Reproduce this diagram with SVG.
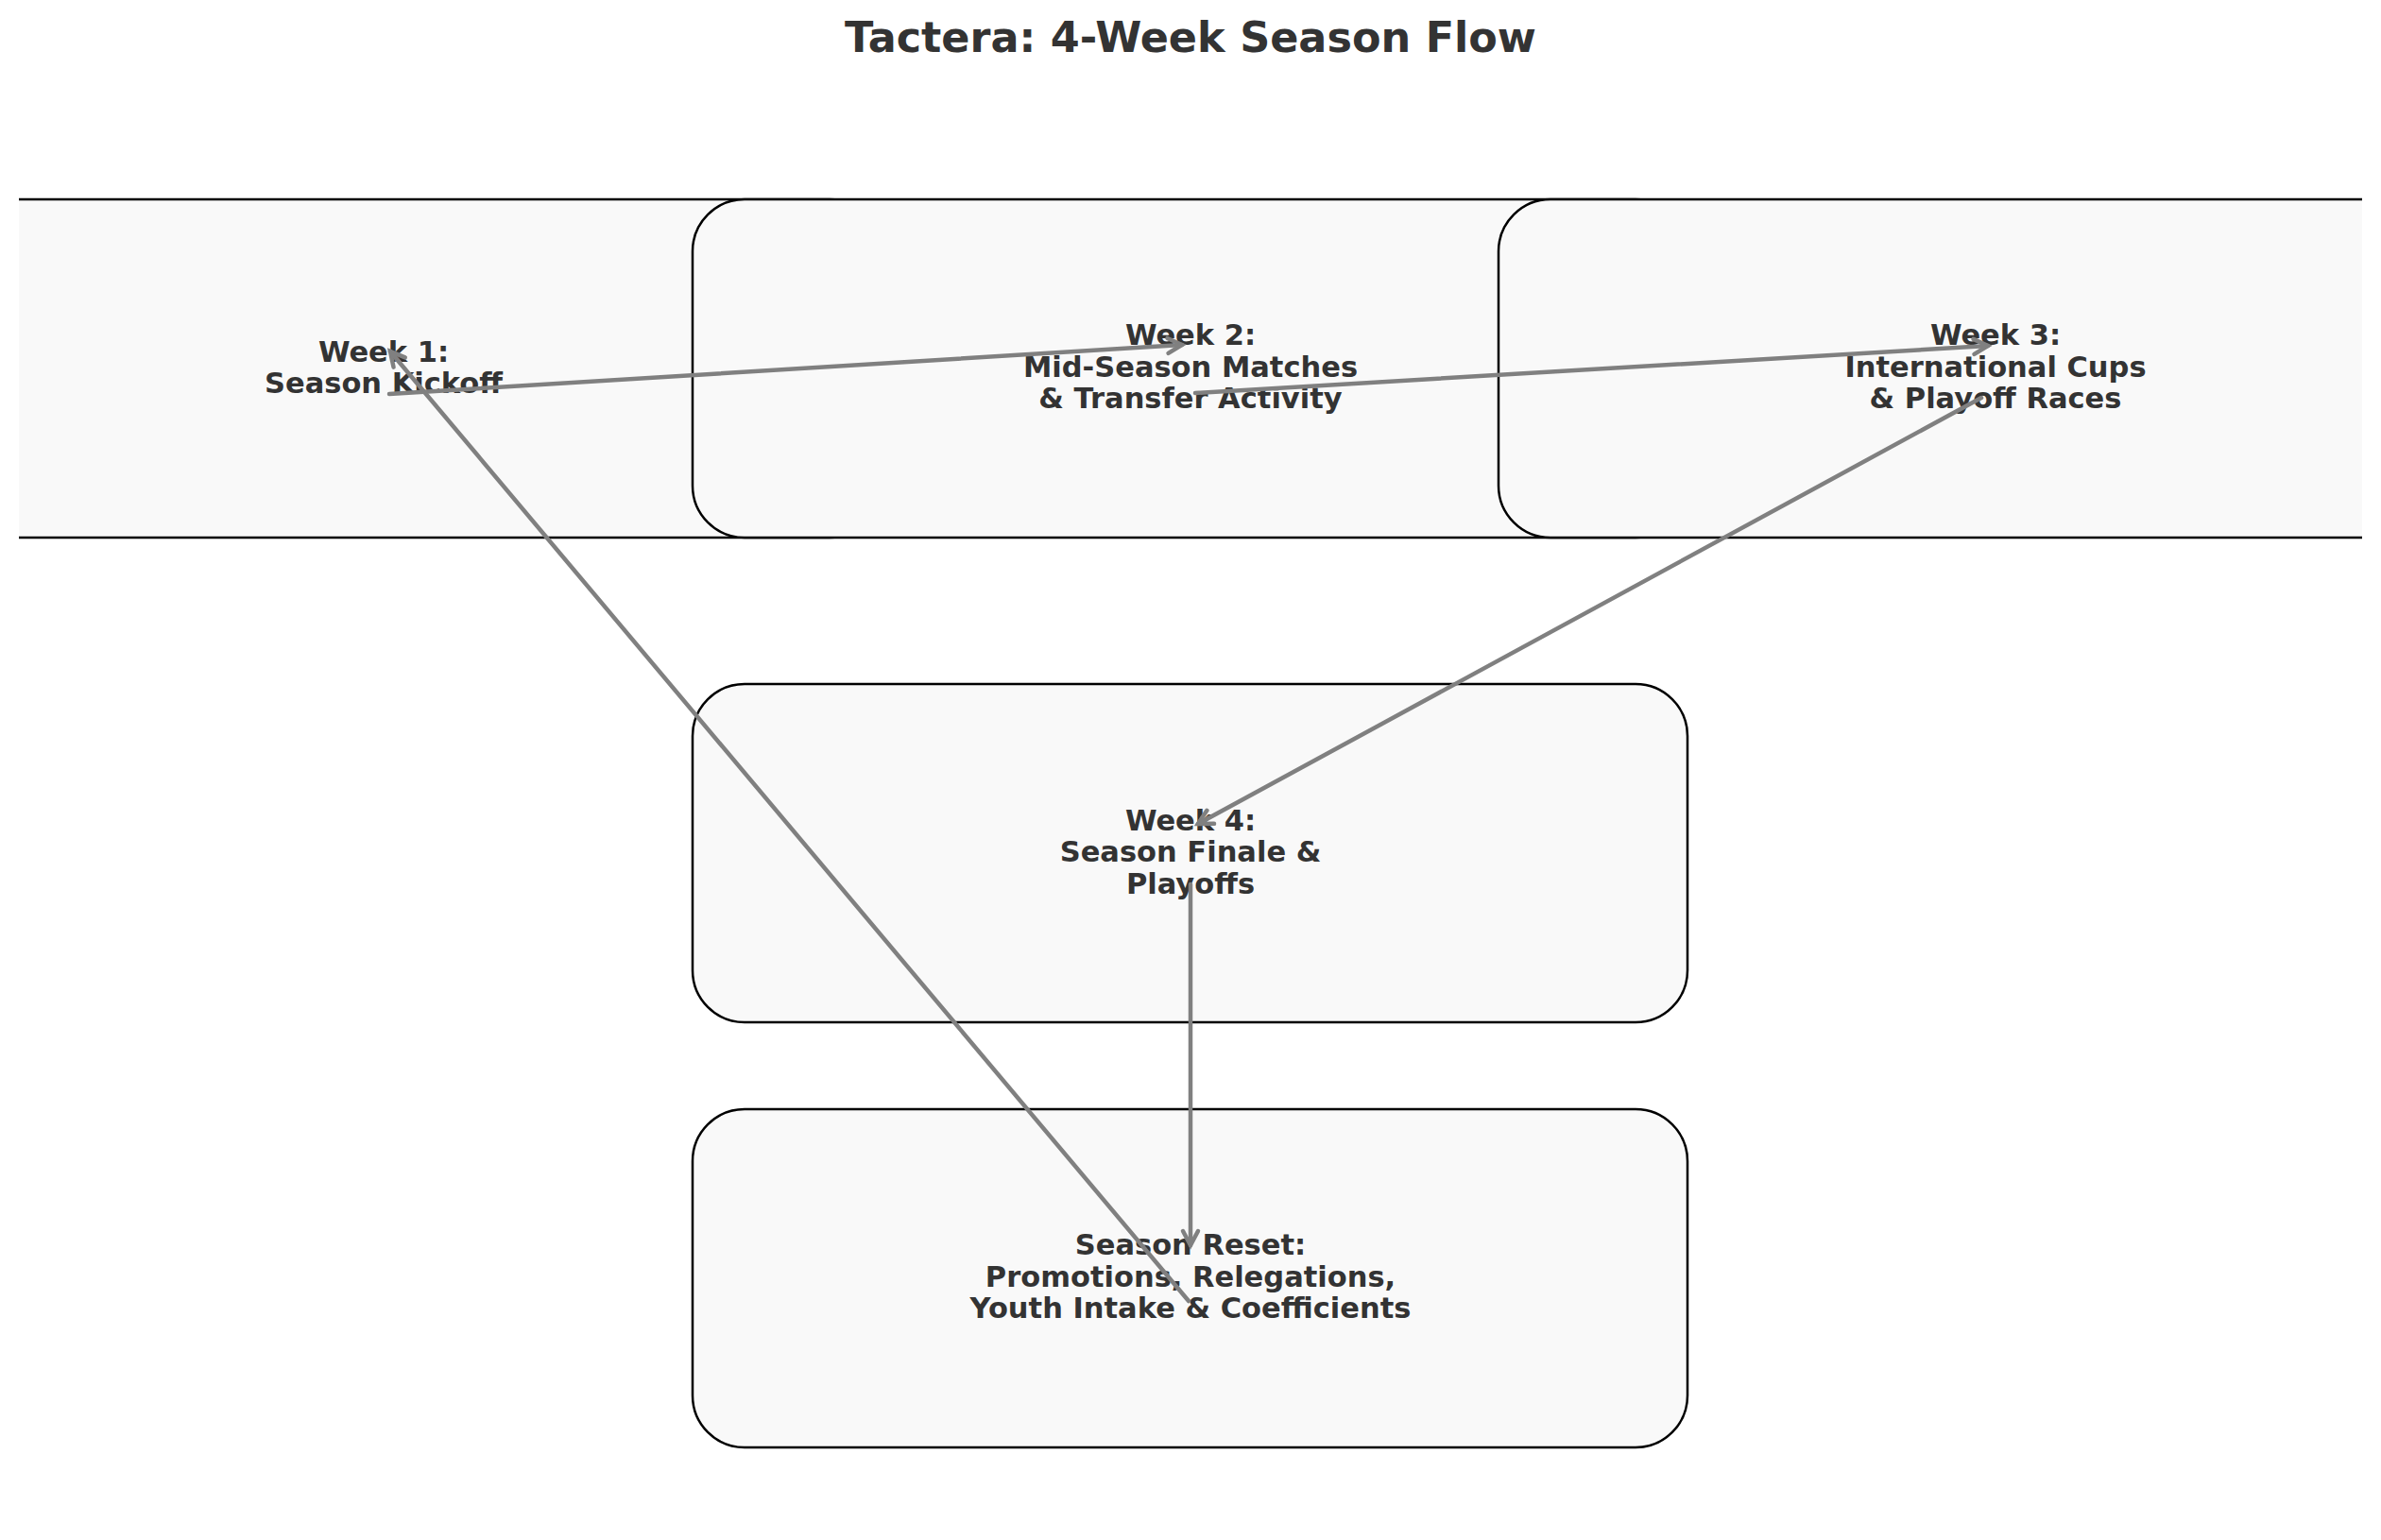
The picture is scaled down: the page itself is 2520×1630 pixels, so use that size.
<svg xmlns="http://www.w3.org/2000/svg" width="2520" height="1630" viewBox="0 0 2520 1630">
  <style>
    .box { fill: #f9f9f9; stroke: #000000; stroke-width: 2.5; }
    .lbl { font-family: "DejaVu Sans", "Liberation Sans", sans-serif; font-weight: bold; font-size: 30.5px; fill: #333333; text-anchor: middle; }
    .title { font-family: "DejaVu Sans", "Liberation Sans", sans-serif; font-weight: bold; font-size: 44.5px; fill: #333333; text-anchor: middle; }
    .edge { fill: none; stroke: #808080; stroke-width: 4.5; stroke-linecap: round; }
  </style>
  <defs>
    <clipPath id="axes">
      <rect x="20" y="0" width="2480" height="1630"/>
    </clipPath>
    <marker id="arrow" markerUnits="userSpaceOnUse" markerWidth="40" markerHeight="40" viewBox="-20 -20 40 40" refX="0" refY="0" orient="auto">
      <path d="M -15 -8 L 0 0 L -15 8" fill="none" stroke="#808080" stroke-width="4.5" stroke-linecap="round" stroke-linejoin="miter"/>
    </marker>
  </defs>
  <rect x="0" y="0" width="2520" height="1630" fill="#ffffff"/>
  <text class="title" x="1260" y="55">Tactera: 4-Week Season Flow</text>
  <g clip-path="url(#axes)">
    <g id="week1">
      <rect class="box" x="-120" y="211" width="1053" height="358" rx="55" ry="55"/>
      <text class="lbl" x="406" y="383">Week 1:</text>
      <text class="lbl" x="406" y="416">Season Kickoff</text>
    </g>
    <g id="week2">
      <rect class="box" x="733" y="211" width="1053" height="358" rx="55" ry="55"/>
      <text class="lbl" x="1260" y="365">Week 2:</text>
      <text class="lbl" x="1260" y="398.5">Mid-Season Matches</text>
      <text class="lbl" x="1260" y="432">&amp; Transfer Activity</text>
    </g>
    <g id="week3">
      <rect class="box" x="1586" y="211" width="1053" height="358" rx="55" ry="55"/>
      <text class="lbl" x="2112" y="365">Week 3:</text>
      <text class="lbl" x="2112" y="398.5">International Cups</text>
      <text class="lbl" x="2112" y="432">&amp; Playoff Races</text>
    </g>
    <g id="week4">
      <rect class="box" x="733" y="724" width="1053" height="358" rx="55" ry="55"/>
      <text class="lbl" x="1260" y="879">Week 4:</text>
      <text class="lbl" x="1260" y="912">Season Finale &amp;</text>
      <text class="lbl" x="1260" y="946">Playoffs</text>
    </g>
    <g id="reset">
      <rect class="box" x="733" y="1174" width="1053" height="358" rx="55" ry="55"/>
      <text class="lbl" x="1260" y="1328">Season Reset:</text>
      <text class="lbl" x="1260" y="1362">Promotions, Relegations,</text>
      <text class="lbl" x="1260" y="1395">Youth Intake &amp; Coefficients</text>
    </g>
  </g>
  <g id="connectors">
    <line class="edge" x1="412" y1="417" x2="1251" y2="365" marker-end="url(#arrow)"/>
    <line class="edge" x1="1265" y1="416" x2="2104" y2="366" marker-end="url(#arrow)"/>
    <line class="edge" x1="2097" y1="421" x2="1268" y2="872" marker-end="url(#arrow)"/>
    <line class="edge" x1="1260" y1="936" x2="1260" y2="1318" marker-end="url(#arrow)"/>
    <line class="edge" x1="1258" y1="1377" x2="413" y2="372" marker-end="url(#arrow)"/>
  </g>
</svg>
